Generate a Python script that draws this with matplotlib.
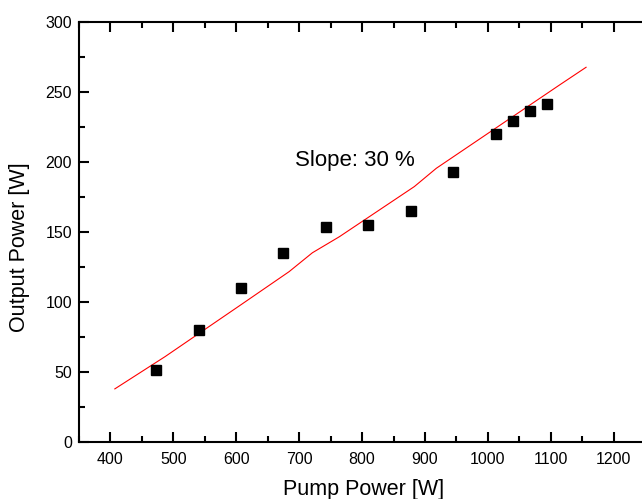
import matplotlib
matplotlib.use("Agg")
import matplotlib.pyplot as plt
from matplotlib.ticker import MultipleLocator

plt.rcParams['font.family'] = ['Liberation Sans', 'DejaVu Sans']

# measured points
pump = [473, 541, 607, 674, 742, 810, 878, 945, 1013, 1040, 1067, 1094]
output = [51, 80, 110, 134.5, 153.5, 155, 165, 193, 220, 229.5, 236, 241]

# fitted line (as drawn)
fit_x = [407, 487, 607, 684, 721, 764, 883, 918, 1114, 1156]
fit_y = [37.7, 60.8, 97.7, 121.5, 135, 146.5, 182.3, 195.4, 255, 267.6]

fig = plt.figure(figsize=(6.42, 4.99), dpi=100)
ax = fig.add_axes([0.123, 0.115, 0.882, 0.841])

ax.plot(fit_x, fit_y, color='red', lw=0.8)
ax.plot(pump, output, 's', color='black', ms=7.5, mec='black')

ax.text(693, 197, 'Slope: 30 %', fontsize=16)

ax.set_xlim(350, 1250)
ax.set_ylim(0, 300)
ax.xaxis.set_major_locator(MultipleLocator(100))
ax.xaxis.set_minor_locator(MultipleLocator(50))
ax.yaxis.set_major_locator(MultipleLocator(50))
ax.yaxis.set_minor_locator(MultipleLocator(25))
ax.set_xticks(range(400, 1201, 100))

ax.tick_params(which='both', direction='in', top=True, right=False, width=1.5, labelsize=11.5)
ax.tick_params(which='major', length=7)
ax.tick_params(which='minor', length=4)
ax.tick_params(axis='x', pad=7.5)
ax.tick_params(axis='y', pad=5)
for s in ax.spines.values():
    s.set_linewidth(1.5)

ax.set_xlabel('Pump Power [W]', fontsize=15.5)
ax.set_ylabel('Output Power [W]', fontsize=15.5)
ax.xaxis.set_label_coords(0.502, -0.088)
ax.yaxis.set_label_coords(-0.087, 0.464)

plt.savefig('out.png', dpi=100)
